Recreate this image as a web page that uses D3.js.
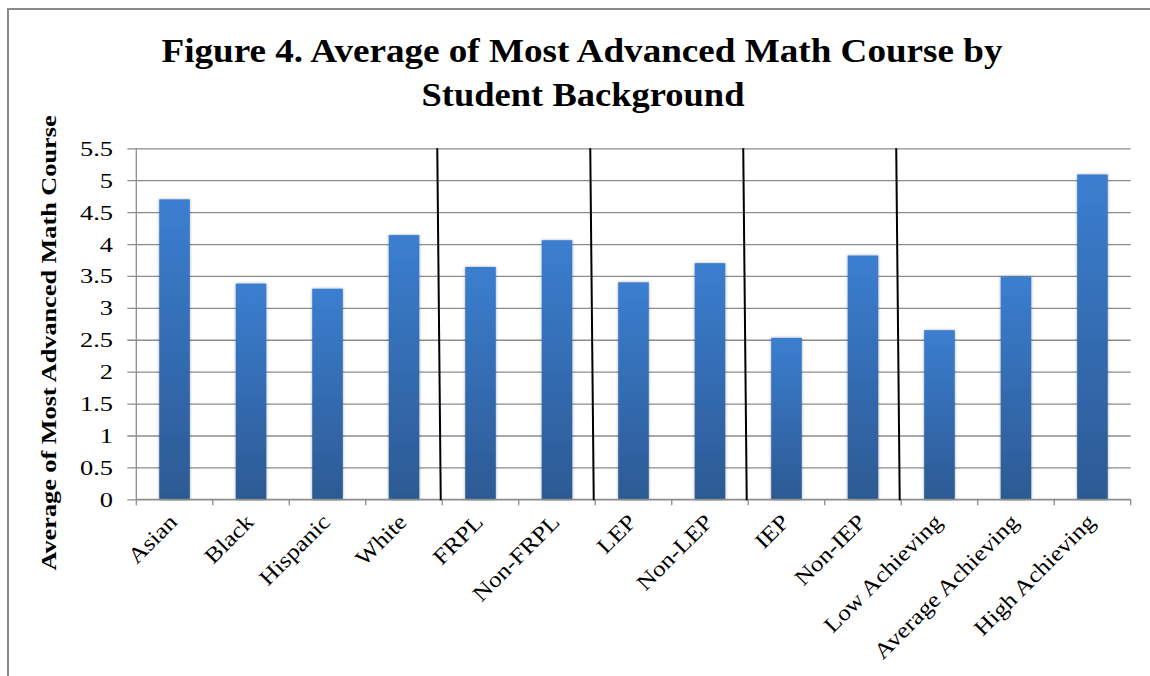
<!DOCTYPE html>
<html>
<head>
<meta charset="utf-8">
<script src="https://cdn.jsdelivr.net/npm/d3@7"></script>
<style>
  html, body { margin: 0; padding: 0; background: #fff; }
  svg { display: block; }
</style>
</head>
<body>
<svg id="chart" width="1150" height="676"></svg>
<script>
// Student groups and their average most-advanced math course level
const categories = ["Asian", "Black", "Hispanic", "White", "FRPL", "Non-FRPL", "LEP", "Non-LEP",
                    "IEP", "Non-IEP", "Low Achieving", "Average Achieving", "High Achieving"];
const values = [4.70, 3.38, 3.30, 4.14, 3.64, 4.06, 3.40, 3.70, 2.53, 3.82, 2.65, 3.49, 5.09];
const yTicks = [0, 0.5, 1, 1.5, 2, 2.5, 3, 3.5, 4, 4.5, 5, 5.5];
// Group separators sit after these category indices
const separatorsAfter = [3, 5, 7, 9];

const svg = d3.select("#chart");
const W = 1150, H = 676;
const plot = { left: 136.3, right: 1130.7, top: 148.3, bottom: 499.3 };
const serif = "'Liberation Serif', 'Times New Roman', serif";
const WIDE = 1.2; // horizontal glyph stretch for tick labels

// Outer frame (top and left edges)
svg.append("line").attr("x1", 7).attr("x2", W).attr("y1", 9).attr("y2", 9)
  .attr("stroke", "#8a8a8a").attr("stroke-width", 2);
svg.append("line").attr("x1", 8).attr("x2", 8).attr("y1", 9).attr("y2", H)
  .attr("stroke", "#8a8a8a").attr("stroke-width", 2);

const x = d3.scaleBand().domain(categories).range([plot.left, plot.right]).paddingInner(0.6).paddingOuter(0.3);
const y = d3.scaleLinear().domain([0, 5.5]).range([plot.bottom, plot.top]);

// Gradient and soft shadow for bars
const defs = svg.append("defs");
const grad = defs.append("linearGradient").attr("id", "barGrad")
  .attr("x1", 0).attr("y1", 0).attr("x2", 0).attr("y2", 1);
grad.append("stop").attr("offset", "0%").attr("stop-color", "#3b7ed0");
grad.append("stop").attr("offset", "100%").attr("stop-color", "#2c5a93");
const shadow = defs.append("filter").attr("id", "barShadow")
  .attr("x", "-30%").attr("y", "-5%").attr("width", "160%").attr("height", "110%");
shadow.append("feGaussianBlur").attr("in", "SourceAlpha").attr("stdDeviation", 1.6).attr("result", "b");
shadow.append("feComponentTransfer").attr("in", "b").attr("result", "s")
  .append("feFuncA").attr("type", "linear").attr("slope", 0.35);
const merge = shadow.append("feMerge");
merge.append("feMergeNode").attr("in", "s");
merge.append("feMergeNode").attr("in", "SourceGraphic");

// Horizontal gridlines with small outside ticks
const yAxis = d3.axisLeft(y).tickValues(yTicks).tickSize(plot.right - plot.left + 9).tickFormat("");
const yg = svg.append("g").attr("transform", `translate(${plot.right},0)`).call(yAxis);
yg.select(".domain").remove();
yg.selectAll(".tick line").attr("stroke", "#8c8c8c").attr("stroke-width", 1.3);

// Y tick labels
svg.append("g").selectAll("text").data(yTicks).join("text")
  .attr("transform", d => `translate(113,${y(d)}) scale(${WIDE},1)`)
  .attr("dy", "0.34em")
  .attr("text-anchor", "end")
  .attr("font-family", serif).attr("font-size", 22).attr("fill", "#000")
  .text(d => d);

// Y axis line
svg.append("line").attr("x1", plot.left).attr("x2", plot.left)
  .attr("y1", plot.top).attr("y2", plot.bottom)
  .attr("stroke", "#8c8c8c").attr("stroke-width", 1.3);

// Bars
svg.append("g").selectAll("rect").data(values).join("rect")
  .attr("x", (d, i) => x(categories[i]))
  .attr("width", x.bandwidth())
  .attr("y", d => y(d))
  .attr("height", d => y(0) - y(d))
  .attr("fill", "url(#barGrad)")
  .attr("filter", "url(#barShadow)");

// X axis with ticks at category boundaries
const step = x.step();
const boundaries = d3.range(categories.length + 1).map(i => plot.left + i * step);
svg.append("line").attr("x1", plot.left).attr("x2", plot.right)
  .attr("y1", plot.bottom).attr("y2", plot.bottom)
  .attr("stroke", "#8c8c8c").attr("stroke-width", 1.3);
svg.append("g").selectAll("line").data(boundaries).join("line")
  .attr("x1", d => d).attr("x2", d => d)
  .attr("y1", plot.bottom).attr("y2", plot.bottom + 6)
  .attr("stroke", "#8c8c8c").attr("stroke-width", 1.3);

// Rotated category labels
svg.append("g").selectAll("text").data(categories).join("text")
  .attr("transform", d => `translate(${x(d) + x.bandwidth() / 2 + 4},${plot.bottom + 24}) rotate(-45) scale(1.15,1)`)
  .attr("text-anchor", "end")
  .attr("font-family", serif).attr("font-size", 22).attr("fill", "#000")
  .text(d => d);

// Hand-drawn group separators
svg.append("g").selectAll("line").data(separatorsAfter).join("line")
  .attr("x1", i => plot.left + (i + 1) * step - 5)
  .attr("x2", i => plot.left + (i + 1) * step - 1.5)
  .attr("y1", plot.top)
  .attr("y2", plot.bottom + 1)
  .attr("stroke", "#000").attr("stroke-width", 2);

// Title
const title = svg.append("text")
  .attr("text-anchor", "middle")
  .attr("font-family", serif)
  .attr("font-weight", "bold").attr("font-size", 33).attr("fill", "#000");
title.append("tspan").attr("x", 582).attr("y", 62)
  .attr("textLength", 841).attr("lengthAdjust", "spacingAndGlyphs")
  .text("Figure 4. Average of Most Advanced Math Course by");
title.append("tspan").attr("x", 583).attr("y", 106)
  .attr("textLength", 323).attr("lengthAdjust", "spacingAndGlyphs")
  .text("Student Background");

// Y axis title
svg.append("text")
  .attr("transform", "translate(56,343) rotate(-90) scale(1.25,1)")
  .attr("text-anchor", "middle")
  .attr("font-family", serif)
  .attr("font-weight", "bold").attr("font-size", 21).attr("fill", "#000")
  .text("Average of Most Advanced Math Course");
</script>
</body>
</html>
